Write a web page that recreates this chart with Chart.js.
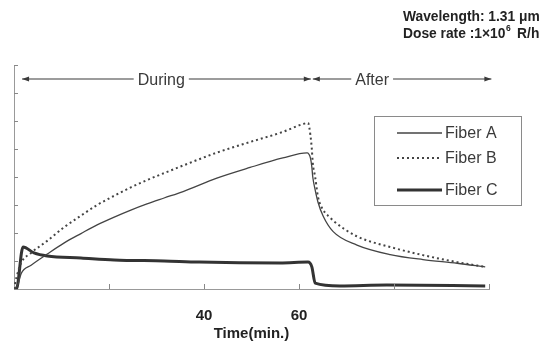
<!DOCTYPE html>
<html>
<head>
<meta charset="utf-8">
<script src="https://cdn.jsdelivr.net/npm/chart.js@4.4.0/dist/chart.umd.min.js"></script>
<style>
  html, body { margin: 0; padding: 0; background: #fff; }
</style>
</head>
<body>
<canvas id="chart" width="543" height="343"></canvas>
<script>
// Readings taken off the figure (time in min, loss in axis units 0..8)
const timeA  = [0, 0.8, 1.5, 3.6, 7, 10.5, 14.1, 17.5, 21.1, 24.6, 28, 31.6, 35.6, 42.7, 49.7, 56.6, 61.7, 62.4, 62.7, 62.9, 63.4, 64, 65.1, 67.2, 72.2, 79.2, 86.1, 93.3, 99.2];
const fiberA = [0, 0.15, 0.55, 0.85, 1.25, 1.64, 1.98, 2.29, 2.57, 2.82, 3.04, 3.25, 3.48, 3.96, 4.34, 4.68, 4.86, 4.68, 4.36, 4.0, 3.54, 3.1, 2.6, 2.05, 1.57, 1.23, 1.05, 0.92, 0.79];

const timeB  = [0, 0.5, 1.5, 3.6, 7, 10.5, 14.1, 17.5, 21.1, 24.6, 28, 31.6, 35.6, 42.7, 49.7, 56.6, 60.8, 61.9, 62.4, 62.7, 62.9, 63.4, 64, 65.1, 66.5, 67.2, 72.2, 79.2, 86.1, 93.3, 99.2];
const fiberB = [0, 0.4, 0.93, 1.29, 1.72, 2.2, 2.62, 3.0, 3.33, 3.63, 3.89, 4.14, 4.41, 4.87, 5.25, 5.61, 5.89, 5.93, 5.5, 5.0, 4.5, 4.0, 3.29, 2.82, 2.56, 2.44, 1.88, 1.5, 1.21, 0.96, 0.79];

const timeC  = [0, 0.5, 1.9, 4.2, 7, 14.1, 21.1, 31.6, 39, 56, 61.9, 62.7, 63.4, 68.6, 78.5, 99.2];
const fiberC = [0, 0, 1.5, 1.29, 1.18, 1.11, 1.04, 1.0, 0.96, 0.93, 0.96, 0.79, 0.21, 0.11, 0.14, 0.11];

const xTickLabels = { 40: '40', 60: '60' };
const xTicks = [20, 40, 60, 80, 100];
const yTicks = [0, 1, 2, 3, 4, 5, 6, 7, 8];

const seriesNames = ['Fiber A', 'Fiber B', 'Fiber C'];

const toPoints = (ts, vs) => ts.map((t, i) => ({ x: t, y: vs[i] }));

const ink = '#3a3a3a';
const FONT = "'Liberation Sans', Arial, sans-serif";

const datasets = [
  { label: seriesNames[0], data: toPoints(timeA, fiberA), borderColor: '#444', borderWidth: 1.3 },
  { label: seriesNames[1], data: toPoints(timeB, fiberB), borderColor: '#444', borderWidth: 2, borderDash: [2, 3] },
  { label: seriesNames[2], data: toPoints(timeC, fiberC), borderColor: '#333', borderWidth: 3 },
].map(d => Object.assign(d, { pointRadius: 0, cubicInterpolationMode: 'monotone', fill: false }));

// draw an arrow head at (x, y) pointing left (dir=-1) or right (dir=1)
function arrowHead(ctx, x, y, dir) {
  ctx.beginPath();
  ctx.moveTo(x, y);
  ctx.lineTo(x - dir * 7, y - 2.5);
  ctx.lineTo(x - dir * 7, y + 2.5);
  ctx.closePath();
  ctx.fill();
}

// arrow line with a label in the middle
function labelledArrow(ctx, x1, x2, y, text, textX) {
  ctx.font = '16px ' + FONT;
  const w = ctx.measureText(text).width;
  const gap = 4;
  ctx.beginPath();
  ctx.moveTo(x1, y);
  ctx.lineTo(textX - w / 2 - gap, y);
  ctx.moveTo(textX + w / 2 + gap, y);
  ctx.lineTo(x2, y);
  ctx.stroke();
  arrowHead(ctx, x1, y, -1);
  arrowHead(ctx, x2, y, 1);
  ctx.textAlign = 'center';
  ctx.textBaseline = 'middle';
  ctx.fillText(text, textX, y + 2);
}

const extras = {
  id: 'extras',
  afterDraw(chart) {
    const { ctx, scales: { x, y } } = chart;
    ctx.save();

    // inward ticks
    ctx.strokeStyle = '#888';
    ctx.lineWidth = 1;
    ctx.beginPath();
    yTicks.forEach(v => {
      const py = Math.round(y.getPixelForValue(v)) + 0.5;
      ctx.moveTo(x.left, py);
      ctx.lineTo(x.left + 4, py);
    });
    xTicks.forEach(v => {
      const px = Math.round(x.getPixelForValue(v)) + 0.5;
      ctx.moveTo(px, y.bottom);
      ctx.lineTo(px, y.bottom - 5);
    });
    ctx.stroke();

    // During / After arrows
    ctx.strokeStyle = ink;
    ctx.fillStyle = ink;
    ctx.lineWidth = 1.2;
    const ay = y.getPixelForValue(7.5);
    const xStart = x.getPixelForValue(1.7);
    const xMid = x.getPixelForValue(62.7);
    const xEnd = x.getPixelForValue(100.5);
    labelledArrow(ctx, xStart, xMid - 1, ay, 'During', x.getPixelForValue(31));
    labelledArrow(ctx, xMid + 1, xEnd, ay, 'After', x.getPixelForValue(75.4));

    // legend box
    const box = { l: 374.5, t: 116.5, r: 521.5, b: 205.5 };
    ctx.strokeStyle = '#8a8a8a';
    ctx.lineWidth = 1;
    ctx.strokeRect(box.l, box.t, box.r - box.l, box.b - box.t);
    const rows = [133, 158, 190];
    ctx.font = '16px ' + FONT;
    ctx.textAlign = 'left';
    ctx.textBaseline = 'middle';
    chart.data.datasets.forEach((ds, i) => {
      ctx.strokeStyle = ds.borderColor;
      ctx.lineWidth = ds.borderWidth;
      ctx.setLineDash(ds.borderDash || []);
      ctx.beginPath();
      ctx.moveTo(397, rows[i]);
      ctx.lineTo(442, rows[i]);
      ctx.stroke();
      ctx.setLineDash([]);
      ctx.fillStyle = ink;
      ctx.fillText(ds.label, 445, rows[i] + 1);
    });

    // header notes
    ctx.fillStyle = '#222';
    ctx.font = 'bold 13.8px ' + FONT;
    ctx.textBaseline = 'middle';
    ctx.fillText('Wavelength: 1.31 \u03bcm', 403, 17);
    let tx = 403;
    const part1 = 'Dose rate :1\u00d710';
    ctx.fillText(part1, tx, 34);
    tx += ctx.measureText(part1).width;
    ctx.font = 'bold 8.5px ' + FONT;
    ctx.fillText('6', tx + 0.5, 29);
    tx += ctx.measureText('6').width + 7;
    ctx.font = 'bold 13.8px ' + FONT;
    ctx.fillText('R/h', tx, 34);

    ctx.restore();
  }
};

new Chart(document.getElementById('chart'), {
  type: 'line',
  data: { datasets },
  plugins: [extras],
  options: {
    responsive: false,
    animation: false,
    layout: { padding: { left: 14, right: 54, top: 65, bottom: 0 } },
    plugins: { legend: { display: false }, tooltip: { enabled: false } },
    scales: {
      x: {
        type: 'linear',
        min: 0,
        max: 100,
        afterFit: s => { s.height = 54; },
        afterBuildTicks: s => { s.ticks = xTicks.map(v => ({ value: v })); },
        grid: { display: false, drawTicks: false },
        border: { display: true, color: '#999', width: 1 },
        ticks: {
          padding: 18,
          color: '#222',
          font: { family: FONT, size: 15, weight: 'bold' },
          maxRotation: 0,
          callback: v => xTickLabels[v] || ''
        },
        title: {
          display: true,
          text: 'Time(min.)',
          color: '#222',
          font: { family: FONT, size: 15, weight: 'bold' },
          padding: { top: 0, bottom: 0 }
        }
      },
      y: {
        min: 0,
        max: 8,
        afterFit: s => { s.width = 0; },
        grid: { display: false, drawTicks: false },
        border: { display: true, color: '#999', width: 1 },
        ticks: { display: false, stepSize: 1 }
      }
    }
  }
});
</script>
</body>
</html>
